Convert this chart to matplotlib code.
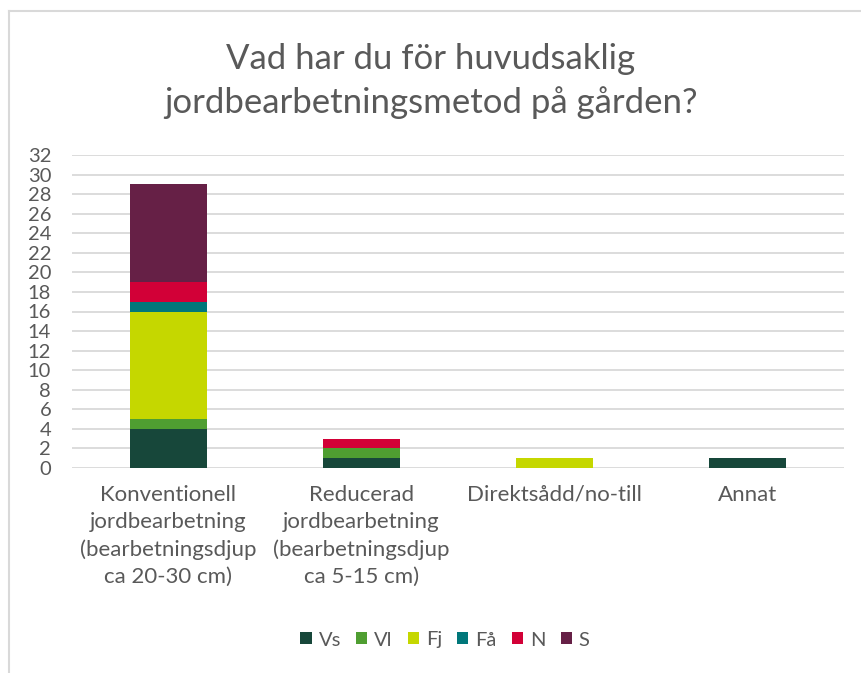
import numpy as np
import matplotlib.pyplot as plt
from matplotlib.lines import Line2D

plt.rcParams['font.family'] = ['Lato', 'DejaVu Sans']

categories = ['Konventionell\njordbearbetning\n(bearbetningsdjup\nca 20-30 cm)',
              'Reducerad\njordbearbetning\n(bearbetningsdjup\nca 5-15 cm)',
              'Direktsådd/no-till',
              'Annat']
series = ['Vs', 'Vl', 'Fj', 'Få', 'N', 'S']
Vs = [4, 1, 0, 1]
Vl = [1, 1, 0, 0]
Fj = [11, 0, 1, 0]
Fa = [1, 0, 0, 0]
N = [2, 1, 0, 0]
S = [10, 0, 0, 0]
colors = ['#17473a', '#4f9e31', '#c5d700', '#00777a', '#d20037', '#662046']

txt = '#595959'
fig = plt.figure(figsize=(8.61, 6.73), dpi=100)
ax = fig.add_axes([72/861, 1-468/673, (844-72)/861, (468-155)/673])

x = np.arange(len(categories))
bottom = np.zeros(len(categories))
for name, vals, c in zip(series, [Vs, Vl, Fj, Fa, N, S], colors):
    vals = np.array(vals, dtype=float)
    ax.bar(x, vals, width=0.4, bottom=bottom, color=c, label=name, zorder=3)
    bottom += vals

ax.set_xlim(-0.5, 3.5)
ax.set_ylim(0, 32)
ax.set_yticks(range(0, 33, 2))
ax.grid(axis='y', color='#d9d9d9', linewidth=1.3, zorder=0)
for s in ax.spines.values():
    s.set_visible(False)
ax.tick_params(axis='both', length=0, colors=txt)
ax.tick_params(axis='y', labelsize=14.5, pad=15)
ax.set_xticks(x)
ax.set_xticklabels(categories, fontsize=16, linespacing=1.45, va='top')
ax.tick_params(axis='x', pad=12)

fig.text(0.5, 1-81/673, 'Vad har du för huvudsaklig\njordbearbetningsmetod på gården?',
         ha='center', va='center', fontsize=25, color=txt, linespacing=1.38)

leg = fig.legend(loc='center', bbox_to_anchor=(445/861, 1-640/673), ncol=6, frameon=False,
                 fontsize=14.5, handlelength=0.55, handleheight=0.55, handletextpad=0.35,
                 columnspacing=0.75)
for t in leg.get_texts():
    t.set_color(txt)

# chart border
fig.add_artist(Line2D([9/861, 9/861], [0, 1-11/673], color='#d9d9d9', lw=1.5))
fig.add_artist(Line2D([9/861, 1], [1-11/673, 1-11/673], color='#d9d9d9', lw=1.5))

fig.savefig('out.png', dpi=100)
